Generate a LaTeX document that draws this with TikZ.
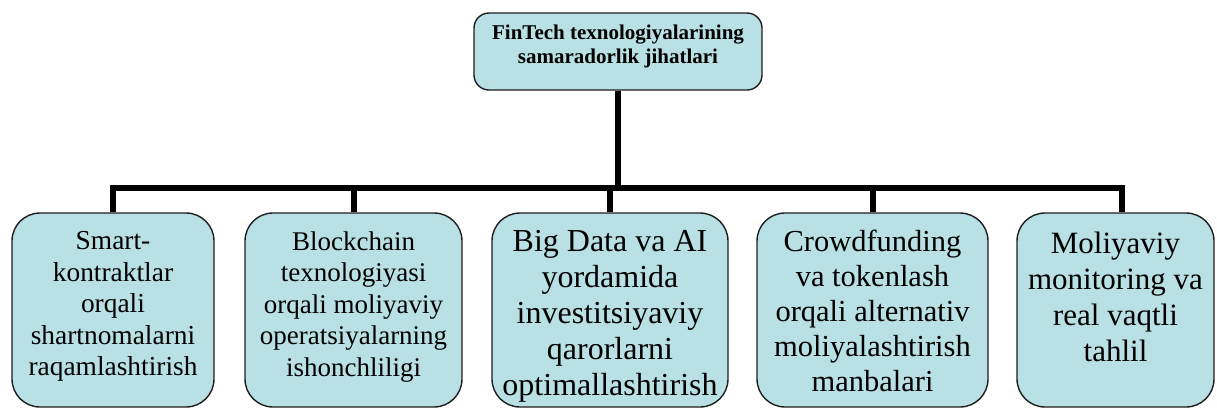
\documentclass[tikz,border=0pt]{standalone}
\usepackage{fontspec}
\setmainfont{Liberation Serif}
\definecolor{boxfill}{RGB}{185,224,228}
\definecolor{boxline}{RGB}{30,30,30}
\tikzset{
  topbox/.style={draw=boxline, line width=1.4pt, fill=boxfill, rounded corners=15pt,
    minimum width=288pt, minimum height=77pt, inner sep=0pt},
  toptext/.style={align=center, inner sep=0pt, font=\fontsize{21}{24}\selectfont\bfseries},
  leafbox/.style={draw=boxline, line width=1.4pt, fill=boxfill, rounded corners=28pt,
    minimum height=194pt, inner sep=0pt},
  leaftext/.style={anchor=north, align=center, inner sep=0pt},
  conn/.style={line width=6pt, draw=black}
}
\begin{document}
\begin{tikzpicture}[x=1pt, y=-1pt]
\useasboundingbox (0,0) rectangle (1217,408);
% top box
\node[topbox] (t) at (618,51.5) {};
\node[toptext] (tt) at (618,46) {FinTech texnologiyalarining\\samaradorlik jihatlari};
% leaf boxes
\node[leafbox, minimum width=202pt] (b1) at (113,310) {};
\node[leafbox, minimum width=217pt] (b2) at (353.5,310) {};
\node[leafbox, minimum width=236pt] (b3) at (610,310) {};
\node[leafbox, minimum width=231pt] (b4) at (872.5,310) {};
\node[leafbox, minimum width=197pt] (b5) at (1115.5,310) {};
% texts
\node[leaftext, font=\fontsize{27.4}{31.5}\selectfont] (l1) at ([yshift=-19pt]b1.north) {Smart-\\kontraktlar\\orqali\\shartnomalarni\\raqamlashtirish};
\node[leaftext, font=\fontsize{27}{31.5}\selectfont] (l2) at ([yshift=-19pt]b2.north) {Blockchain\\texnologiyasi\\orqali moliyaviy\\operatsiyalarning\\ishonchliligi};
\node[leaftext, font=\fontsize{32}{36}\selectfont] (l3) at ([yshift=-18pt]b3.north) {Big Data va AI\\yordamida\\investitsiyaviy\\qarorlarni\\optimallashtirish};
\node[leaftext, font=\fontsize{30.5}{35}\selectfont] (l4) at ([yshift=-18pt]b4.north) {Crowdfunding\\va tokenlash\\orqali alternativ\\moliyalashtirish\\manbalari};
\node[leaftext, font=\fontsize{31}{36}\selectfont] (l5) at ([yshift=-19pt]b5.north) {Moliyaviy\\monitoring va\\real vaqtli\\tahlil};
% connectors
\coordinate (hub) at (618,188);
\coordinate (d5) at ([xshift=6.5pt]b5.north);
\draw[conn] (t.south) -- (hub);
\draw[conn] (b1.north) -- (b1.north |- hub) -- (d5 |- hub) -- (d5);
\draw[conn] (b2.north) -- (b2.north |- hub);
\draw[conn] (b3.north) -- (b3.north |- hub);
\draw[conn] (b4.north) -- (b4.north |- hub);
\end{tikzpicture}
\end{document}
